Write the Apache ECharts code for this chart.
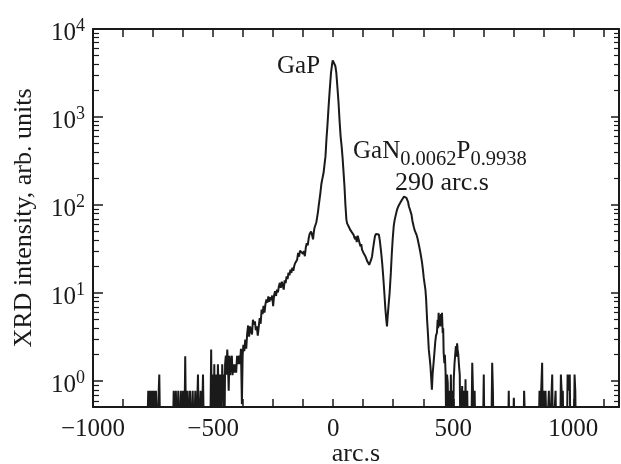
<!DOCTYPE html>
<html>
<head>
<meta charset="utf-8">
<script src="https://cdn.jsdelivr.net/npm/echarts@6/dist/echarts.min.js"></script>
<style>
  html, body { margin: 0; padding: 0; background: #fff; }
  #chart { width: 621px; height: 464px; }
</style>
</head>
<body>
<div id="chart"></div>
<script>
// XRD scan, x in arc.s, y intensity (0.2 = zero counts, drawn below the axis)
var arcSec = [
  -775, -770, -766, -762, -758, -754, -750, -746, -742, -738, -734, -728, -724, -720,
  -668, -664, -660, -655, -650, -645, -640, -634, -630, -625, -620, -616, -612, -606,
  -602, -596, -592, -585, -580, -574, -570, -563, -559, -552, -548, -542, -538,
  -512, -508, -505, -501, -498, -495, -492, -489, -486, -483, -480, -477, -474, -471,
  -468, -465, -462, -459, -456, -453, -450, -447, -444, -441, -438, -435, -432, -429,
  -426, -422, -419, -416, -412, -408, -404, -400, -396, -392, -388, -384, -380, -377,
  -374, -370, -366, -362, -358, -354, -350, -346, -342, -338, -334, -330, -326, -322,
  -318, -314, -310, -306, -302, -298, -294, -290, -286, -282, -278, -274, -270, -266,
  -262, -258, -254, -250, -246, -242, -238, -234, -230, -226, -222, -218, -214, -210,
  -206, -202, -198, -194, -190, -186, -182, -178, -174, -170, -166, -162, -158, -154,
  -150, -146, -142, -138, -134, -130, -126, -122, -118, -114, -110, -106, -102, -98,
  -95, -92, -88, -84, -81, -78, -74, -70, -67, -63, -60, -57, -53, -49, -45, -40, -36,
  -32, -28, -24, -19, -14, -9, -5, -2, 2, 5, 9, 13, 17, 22, 27, 31, 35, 39, 43, 47, 51,
  55, 58, 61, 64, 67, 70, 73, 76, 79, 82, 85, 88, 92, 95, 98, 102, 106, 110, 114, 117,
  120, 124, 128, 131, 134, 138, 142, 146, 150, 152, 155, 158, 162, 166, 170, 174, 178,
  182, 186, 190, 194, 198, 200, 204, 208, 213, 217, 221, 224, 227, 231, 235, 240, 244,
  248, 252, 256, 260, 266, 272, 278, 283, 287, 291, 295, 298, 301, 305, 308, 312, 315,
  318, 322, 326, 330, 335, 339, 343, 347, 351, 355, 359, 363, 367, 370, 374, 377, 381,
  384, 387, 391, 395, 398, 402, 405, 408, 411, 414, 418, 422, 425, 428, 432, 435, 437,
  439, 442, 444, 446, 449, 451, 453, 456, 458, 460, 463, 465, 468, 471, 474, 477, 480,
  484, 487, 490, 493, 496, 499, 502, 505, 508, 511, 513, 516, 518, 521, 524, 527, 530,
  534, 537, 540, 545, 548, 551, 554, 558, 561, 575, 579, 582, 585, 589, 592, 623, 627,
  630, 658, 662, 665, 668, 728, 731, 734, 749, 752, 755, 792, 795, 798, 801, 855, 859,
  862, 866, 870, 873, 878, 881, 884, 887, 890, 895, 898, 901, 909, 912, 915, 922, 926,
  929, 945, 948, 951, 954, 956, 959, 973, 976, 979, 982, 985, 988, 1002, 1005, 1008, 1011
];
var intensity = [
  0.2, 0.78, 0.2, 0.78, 0.2, 0.78, 0.2, 0.78, 0.2, 0.78, 0.2, 0.2, 1.19, 0.2,
  0.2, 0.78, 0.2, 0.78, 0.2, 0.78, 0.2, 0.78, 0.2, 0.78, 0.2, 1.92, 0.2, 0.78,
  0.2, 0.78, 0.2, 0.78, 0.2, 0.78, 0.2, 1.19, 0.2, 0.78, 0.2, 1.19, 0.2,
  0.2, 2.29, 0.2, 1.19, 0.2, 1.56, 0.2, 0.78, 1.19, 0.2, 1.56, 0.78, 0.2, 1.19,
  0.78, 0.2, 1.56, 0.78, 1.19, 0.2, 1.56, 1.95, 1.19, 2.29, 1.56, 0.78, 1.95, 1.17,
  1.56, 1.95, 1.17, 1.56, 1.25, 1.56, 1.25, 1.95, 1.56, 1.95, 1.56, 2.34, 0.55, 1.95,
  2.6, 2.2, 2.97, 2.34, 3.5, 4.3, 3.2, 4.2, 4.0, 3.4, 5.0, 4.4, 4.8, 3.8,
  4.2, 3.3, 3.25, 5.2, 4.5, 6.5, 5.8, 7.2, 6.0, 7.5, 8.5, 7.8, 9.2, 8.0,
  9.0, 8.3, 9.4, 7.1, 9.5, 10.5, 9.3, 11, 10.2, 12, 13.1, 11.5, 13.5, 12.4,
  11.0, 14, 13, 15.5, 14.5, 17.1, 16, 18.5, 17, 19.5, 18, 20.5, 22, 21,
  24, 28.7, 26, 30.5, 29, 31.3, 28, 30, 26.3, 33, 37, 35, 42, 47,
  45, 50, 46, 40.8, 48.5, 55, 57.6, 64, 72, 85, 100, 115, 140, 175, 200, 233, 290,
  360, 560, 800, 1330, 2100, 3200, 3900, 4400, 4500, 4300, 3800, 3200, 2300, 1500, 870, 600, 470, 350, 240, 164, 100,
  68.5, 62, 60, 57.6, 55, 53, 52, 50, 48.5, 51, 46, 43, 40.8, 44, 38, 45, 44.4, 37, 34, 36,
  31.3, 32, 28, 29, 26.3, 25, 23, 24, 21, 20.2, 21, 24, 26.3, 32, 38, 44.4, 47,
  46.4, 48, 46.4, 40, 32, 28.7, 22, 16, 10.1, 6.8, 5.0, 4.2, 5.5, 7.5, 10.1, 17, 28,
  42, 57.6, 68, 76, 89, 98, 105, 110, 116, 119, 125, 128, 126, 121, 118, 108, 97,
  92, 89, 78, 66, 57.6, 52, 52.8, 46, 42, 40.8, 33, 29, 25, 22.2, 18, 15, 12.5,
  11.0, 8.5, 5.0, 3.3, 2.3, 1.8, 1.48, 1.1, 0.80, 1.2, 1.62, 2.2, 2.8, 3.3, 3.55, 5.0, 4.0,
  6.0, 4.8, 5.2, 4.2, 5.8, 4.5, 6.0, 3.5, 4.0, 2.1, 1.6, 2.0, 1.25, 0.2, 1.19, 0.96, 0.2,
  0.78, 0.2, 1.19, 0.2, 0.78, 0.2, 1.05, 1.56, 2.0, 2.5, 1.9, 2.7, 2.3, 2.0, 1.48, 1.19, 0.2,
  0.2, 0.88, 0.2, 0.78, 0.2, 1.05, 0.2, 0.78, 0.2, 0.2, 1.62, 0.78, 0.2, 0.78, 0.2, 0.2, 1.19,
  0.2, 0.2, 1.62, 0.78, 0.2, 0.2, 0.78, 0.2, 0.2, 0.65, 0.2, 0.2, 0.78, 0.78, 0.2, 0.2, 0.78,
  0.2, 0.78, 1.62, 0.2, 0.78, 0.2, 0.78, 0.78, 0.2, 0.2, 0.78, 0.2, 0.2, 1.19, 0.2, 0.2, 0.78,
  0.2, 0.2, 1.19, 0.78, 0.2, 0.78, 0.2, 0.2, 1.19, 1.19, 0.78, 1.19, 0.2, 0.2, 1.19, 0.78, 0.2
];

var xLabels = [-1000, -500, 0, 500, 1000];
var yMajor = [1, 10, 100, 1000, 10000];
var yMinor = [];
[0.1, 1, 10, 100, 1000].forEach(function (d) {
  for (var k = 2; k <= 9; k++) yMinor.push(+(k * d).toFixed(4));
});

var FONT = 'Liberation Serif';
var INK = '#1a1a1a';
var gridRect = { left: 93, right: 2, top: 29, bottom: 57, containLabel: false, outerBoundsMode: 'none' };

var points = arcSec.map(function (x, i) { return [x, intensity[i]]; });

function xAxisBase(extra) {
  return Object.assign({
    type: 'value', min: -1000, max: 1190, interval: 125,
    splitLine: { show: false },
    axisLine: { show: true, onZero: false, lineStyle: { color: INK, width: 2 } },
    axisTick: { show: true, inside: true, length: 8, lineStyle: { color: INK, width: 1.5 } },
    axisLabel: { show: false }
  }, extra);
}
function yAxisBase(extra) {
  return Object.assign({
    type: 'log', min: 0.51, max: 10000, logBase: 10,
    splitLine: { show: false },
    axisLine: { show: true, onZero: false, lineStyle: { color: INK, width: 2 } },
    axisLabel: { show: false }
  }, extra);
}

var chart = echarts.init(document.getElementById('chart'), null, { renderer: 'canvas' });
chart.setOption({
  animation: false,
  backgroundColor: '#fff',
  grid: [Object.assign({}, gridRect), Object.assign({}, gridRect)],
  xAxis: [
    xAxisBase({
      gridIndex: 0, position: 'bottom',
      name: 'arc.s', nameLocation: 'middle', nameGap: 34, nameMoveOverlap: false,
      nameTextStyle: { fontFamily: FONT, fontSize: 26, color: INK },
      axisLabel: {
        show: true, margin: 10, fontFamily: FONT, fontSize: 25, color: INK,
        customValues: xLabels,
        formatter: function (v) { return v < 0 ? '\u2212' + Math.abs(v) : String(v); }
      }
    }),
    xAxisBase({ gridIndex: 0, position: 'top' }),
    xAxisBase({ gridIndex: 1, show: false }),
    xAxisBase({ gridIndex: 1, show: false, position: 'top' })
  ],
  yAxis: [
    yAxisBase({
      gridIndex: 0, position: 'left',
      name: 'XRD intensity, arb. units', nameLocation: 'middle', nameGap: 56, nameRotate: 90,
      nameTextStyle: { fontFamily: FONT, fontSize: 26, color: INK },
      axisTick: { show: true, inside: true, length: 10, customValues: yMajor, lineStyle: { color: INK, width: 1.5 } },
      axisLabel: {
        show: true, margin: 8, customValues: yMajor,
        formatter: function (v) { return '{b|10}{s|' + Math.round(Math.log10(v)) + '}'; },
        rich: {
          b: { fontFamily: FONT, fontSize: 25, color: INK, verticalAlign: 'bottom', lineHeight: 34 },
          s: { fontFamily: FONT, fontSize: 18, color: INK, verticalAlign: 'bottom', lineHeight: 34, padding: [0, 0, 11, 0] }
        }
      }
    }),
    yAxisBase({
      gridIndex: 0, position: 'right',
      axisTick: { show: true, inside: true, length: 8, customValues: yMajor, lineStyle: { color: INK, width: 1.5 } }
    }),
    yAxisBase({
      gridIndex: 1, position: 'left', axisLine: { show: false, onZero: false },
      axisTick: { show: true, inside: true, length: 6, customValues: yMinor, lineStyle: { color: INK, width: 1.2 } }
    }),
    yAxisBase({
      gridIndex: 1, position: 'right', axisLine: { show: false, onZero: false },
      axisTick: { show: true, inside: true, length: 5, customValues: yMinor, lineStyle: { color: INK, width: 1.2 } }
    })
  ],
  series: [{
    type: 'line',
    xAxisIndex: 0, yAxisIndex: 0,
    data: points,
    showSymbol: false,
    clip: true,
    lineStyle: { color: INK, width: 2 }
  }],
  graphic: [
    {
      type: 'text', left: 277, top: 54,
      style: { text: 'GaP', font: '25px "Liberation Serif"', fill: INK }
    },
    {
      type: 'text', left: 353, top: 139,
      style: {
        text: '{b|GaN}{s|0.0062}{b|P}{s|0.9938}',
        rich: {
          b: { fontFamily: FONT, fontSize: 25, fill: INK, color: INK, verticalAlign: 'bottom', lineHeight: 32, padding: [0, 0, 6, 0] },
          s: { fontFamily: FONT, fontSize: 20.5, fill: INK, color: INK, verticalAlign: 'bottom', lineHeight: 32 }
        }
      }
    },
    {
      type: 'text', left: 395, top: 170,
      style: { text: '290 arc.s', font: '26px "Liberation Serif"', fill: INK }
    }
  ]
});
</script>
</body>
</html>
